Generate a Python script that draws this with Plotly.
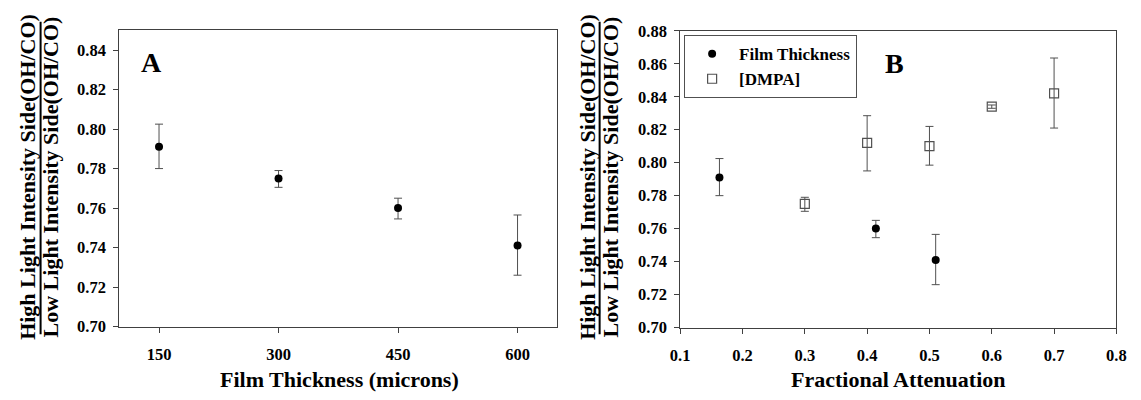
import plotly.graph_objects as go

W, H = 1141, 400
OFF = 8  # page body margin offset (px)


def px(x):
    return (x - OFF) / W


def py(y):
    return 1 - (y - OFF) / H


# Panel A data
thick_x = [150, 300, 450, 600]
thick_y = [0.791, 0.775, 0.760, 0.741]
thick_err_plus = [0.0115, 0.004, 0.005, 0.0155]
thick_err_minus = [0.011, 0.0045, 0.0055, 0.015]

# Panel B data
fa_thick_x = [0.163, 0.414, 0.510]
fa_thick_y = [0.791, 0.760, 0.741]
fa_thick_err_plus = [0.0115, 0.005, 0.0155]
fa_thick_err_minus = [0.011, 0.0055, 0.015]

dmpa_x = [0.3, 0.4, 0.5, 0.6, 0.7]
dmpa_y = [0.775, 0.812, 0.810, 0.834, 0.842]
dmpa_err_plus = [0.004, 0.0165, 0.012, 0.001, 0.0215]
dmpa_err_minus = [0.0045, 0.017, 0.0115, 0.001, 0.021]

xa_ticks = [150, 300, 450, 600]
xb_ticks = [0.1, 0.2, 0.3, 0.4, 0.5, 0.6, 0.7, 0.8]
ya_ticks = [0.70, 0.72, 0.74, 0.76, 0.78, 0.80, 0.82, 0.84]
yb_ticks = [0.70, 0.72, 0.74, 0.76, 0.78, 0.80, 0.82, 0.84, 0.86, 0.88]

FONT = "Liberation Serif"
AX = "#404040"
ERR = "#505050"

fig = go.Figure()

fig.add_trace(go.Scatter(
    x=thick_x, y=thick_y, mode="markers", showlegend=False,
    marker=dict(symbol="circle", size=8, color="black"),
    error_y=dict(type="data", symmetric=False, array=thick_err_plus,
                 arrayminus=thick_err_minus, color=ERR, thickness=1, width=4),
    xaxis="x", yaxis="y"))

fig.add_trace(go.Scatter(
    x=fa_thick_x, y=fa_thick_y, mode="markers", name="<b>Film Thickness</b>",
    marker=dict(symbol="circle", size=8, color="black"),
    error_y=dict(type="data", symmetric=False, array=fa_thick_err_plus,
                 arrayminus=fa_thick_err_minus, color=ERR, thickness=1, width=4),
    xaxis="x2", yaxis="y2"))

fig.add_trace(go.Scatter(
    x=dmpa_x, y=dmpa_y, mode="markers", name="<b>[DMPA]</b>",
    marker=dict(symbol="square-open", size=9, color="#505050", line=dict(width=1.2)),
    error_y=dict(type="data", symmetric=False, array=dmpa_err_plus,
                 arrayminus=dmpa_err_minus, color=ERR, thickness=1, width=4),
    xaxis="x2", yaxis="y2"))

common = dict(showgrid=False, zeroline=False, showline=True, linecolor=AX,
              linewidth=1, mirror=True, ticks="outside", ticklen=5,
              tickcolor=AX, tickfont=dict(family=FONT, size=16.5, color="black"))

fig.update_layout(
    width=W, height=H,
    margin=dict(l=0, r=0, t=0, b=0),
    paper_bgcolor="white", plot_bgcolor="white",
    font=dict(family=FONT, color="black"),
    xaxis=dict(domain=[px(111), px(557)], range=[100, 650],
               tickvals=xa_ticks, ticktext=[f"<b>{v}</b>" for v in xa_ticks],
               ticklabelstandoff=8, anchor="y", **common),
    yaxis=dict(domain=[py(333), py(22)], range=[0.70, 0.85],
               tickvals=ya_ticks, ticktext=[f"<b>{v:.2f}</b>" for v in ya_ticks],
               ticklabelstandoff=4, anchor="x", **common),
    xaxis2=dict(domain=[px(682), px(1126)], range=[0.1, 0.8],
                tickvals=xb_ticks, ticktext=[f"<b>{v:.1f}</b>" for v in xb_ticks],
                ticklabelstandoff=8, anchor="y2", **common),
    yaxis2=dict(domain=[py(334), py(22.5)], range=[0.70, 0.88],
                tickvals=yb_ticks, ticktext=[f"<b>{v:.2f}</b>" for v in yb_ticks],
                ticklabelstandoff=4, anchor="x2", **common),
    legend=dict(x=px(686), y=py(27), xanchor="left", yanchor="top",
                bordercolor="#505050", borderwidth=1, bgcolor="white",
                font=dict(family=FONT, size=17, color="black"),
                itemwidth=44, tracegroupgap=0),
)

ann = []
bold = dict(family=FONT, color="black")
# y titles drawn as a fraction: numerator, bar, denominator
for x_hi, x_lo, x_line in [(17, 41, 31), (587, 611, 600)]:
    ann.append(dict(text="<b>High Light Intensity Side(OH/CO)</b>", x=px(x_hi), y=py(176),
                    xref="paper", yref="paper", showarrow=False, textangle=-90,
                    xanchor="center", yanchor="middle", font=dict(size=22, **bold)))
    ann.append(dict(text="<b>Low Light Intensity Side(OH/CO)</b>", x=px(x_lo), y=py(176),
                    xref="paper", yref="paper", showarrow=False, textangle=-90,
                    xanchor="center", yanchor="middle", font=dict(size=22, **bold)))
    fig.add_shape(type="line", xref="paper", yref="paper",
                  x0=px(x_line), x1=px(x_line), y0=py(13), y1=py(341),
                  line=dict(color="black", width=2))
# x titles
ann.append(dict(text="<b>Film Thickness (microns)</b>", x=px(335), y=py(389),
                xref="paper", yref="paper", showarrow=False,
                xanchor="center", yanchor="middle", font=dict(size=22, **bold)))
ann.append(dict(text="<b>Fractional Attenuation</b>", x=px(904), y=py(389),
                xref="paper", yref="paper", showarrow=False,
                xanchor="center", yanchor="middle", font=dict(size=22, **bold)))
# panel letters
ann.append(dict(text="<b>A</b>", x=px(144), y=py(56), xref="paper", yref="paper",
                showarrow=False, xanchor="center", yanchor="middle", font=dict(size=28, **bold)))
ann.append(dict(text="<b>B</b>", x=px(900), y=py(57), xref="paper", yref="paper",
                showarrow=False, xanchor="center", yanchor="middle", font=dict(size=28, **bold)))
fig.update_layout(annotations=ann)

fig.write_html("out.html")
